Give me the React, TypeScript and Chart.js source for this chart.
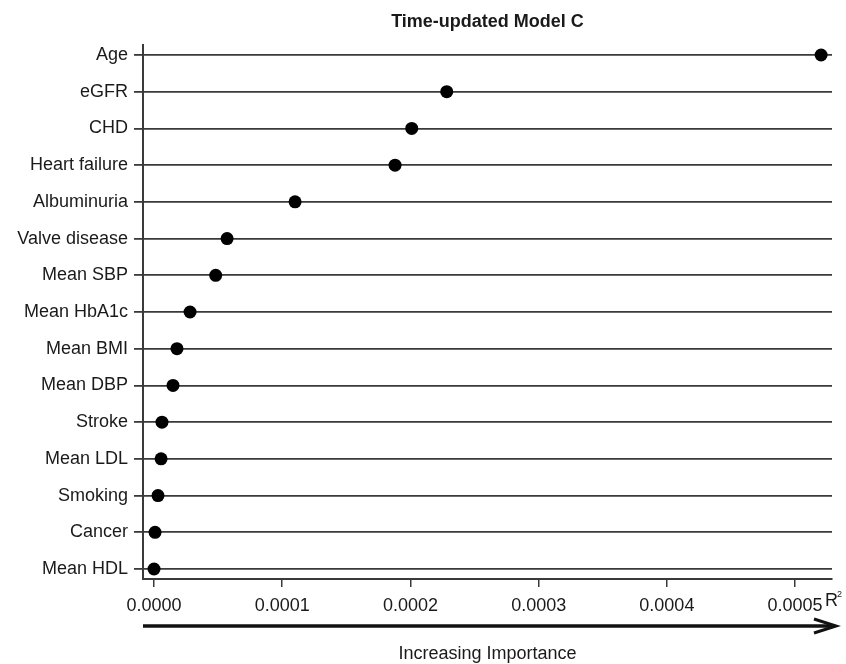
import React, { useEffect, useRef } from "react";
import { Chart, registerables } from "chart.js";

Chart.register(...registerables);

const categories = [
  "Age",
  "eGFR",
  "CHD",
  "Heart failure",
  "Albuminuria",
  "Valve disease",
  "Mean SBP",
  "Mean HbA1c",
  "Mean BMI",
  "Mean DBP",
  "Stroke",
  "Mean LDL",
  "Smoking",
  "Cancer",
  "Mean HDL",
];

const r2Values = [
  0.0005203, 0.0002283, 0.000201, 0.000188, 0.00011, 0.000057, 0.0000481,
  0.0000281, 0.0000179, 0.0000148, 0.0000062, 0.0000055, 0.0000031,
  0.0000008, 0.0,
];

const xTickValues = [0, 0.0001, 0.0002, 0.0003, 0.0004, 0.0005];

const chartTitle = "Time-updated Model C";
const xAxisTitle = "Increasing Importance";

const FONT = "'Liberation Sans', Arial, Helvetica, sans-serif";
const INK = "#1a1a1a";
const LINE = "#3a3a3a";

const decorPlugin = {
  id: "decor",
  afterDraw(chart: any) {
    const ctx = chart.ctx as CanvasRenderingContext2D;
    const area = chart.chartArea;
    const cx = (area.left + area.right) / 2;
    ctx.save();
    // Title
    ctx.fillStyle = INK;
    ctx.textAlign = "center";
    ctx.textBaseline = "alphabetic";
    ctx.font = `bold 18px ${FONT}`;
    ctx.fillText(chartTitle, cx, 27);

    // R^2 label
    ctx.textAlign = "left";
    ctx.font = `18px ${FONT}`;
    ctx.fillText("R", area.right - 7, 606);
    ctx.font = `9px ${FONT}`;
    ctx.fillText("2", area.right + 5, 597);

    // Arrow
    const ay = 626;
    ctx.strokeStyle = "#111";
    ctx.lineWidth = 3.5;
    ctx.lineCap = "butt";
    ctx.beginPath();
    ctx.moveTo(area.left, ay);
    ctx.lineTo(area.right + 3, ay);
    ctx.stroke();
    ctx.lineWidth = 3;
    ctx.lineJoin = "miter";
    ctx.beginPath();
    ctx.moveTo(area.right - 18, ay - 7);
    ctx.lineTo(area.right + 4, ay);
    ctx.lineTo(area.right - 18, ay + 7);
    ctx.stroke();

    // Axis title
    ctx.fillStyle = INK;
    ctx.textAlign = "center";
    ctx.font = `18px ${FONT}`;
    ctx.fillText(xAxisTitle, cx, 659);
    ctx.restore();
  },
};

export default function App() {
  const canvasRef = useRef<HTMLCanvasElement | null>(null);

  useEffect(() => {
    document.body.style.margin = "0";
    const canvas = canvasRef.current;
    if (!canvas) return;
    const chart = new Chart(canvas, {
      type: "scatter",
      data: {
        datasets: [
          {
            data: r2Values.map((v, i) => ({ x: v, y: i })),
            backgroundColor: "#000",
            borderColor: "#000",
            pointRadius: 6.5,
            pointHoverRadius: 6.5,
            borderWidth: 0,
          },
        ],
      },
      options: {
        responsive: false,
        animation: false,
        devicePixelRatio: 1,
        layout: { padding: { top: 45, right: 14, bottom: 0, left: 0 } },
        plugins: {
          legend: { display: false },
          title: { display: false },
          tooltip: { enabled: false },
        },
        scales: {
          x: {
            type: "linear",
            min: -0.0000086,
            max: 0.0005288,
            afterBuildTicks: (axis: any) => {
              axis.ticks = xTickValues.map((v) => ({ value: v }));
            },
            afterFit: (scale: any) => {
              scale.height = 85;
            },
            ticks: {
              autoSkip: false,
              maxRotation: 0,
              minRotation: 0,
              padding: 8,
              color: INK,
              font: { family: FONT, size: 18 },
              callback: (v: any) => Number(v).toFixed(4),
            },
            grid: {
              drawOnChartArea: false,
              drawTicks: true,
              tickLength: 8,
              color: LINE,
              lineWidth: 1.5,
            },
            border: { display: true, color: LINE, width: 2 },
          },
          y: {
            type: "linear",
            reverse: true,
            min: -0.272,
            max: 14.272,
            afterBuildTicks: (axis: any) => {
              axis.ticks = categories.map((_, i) => ({ value: i }));
            },
            afterFit: (scale: any) => {
              scale.width = 143;
            },
            ticks: {
              autoSkip: false,
              padding: 6,
              color: INK,
              font: { family: FONT, size: 18 },
              callback: (v: any) => categories[Math.round(Number(v))] ?? "",
            },
            grid: {
              drawOnChartArea: true,
              drawTicks: true,
              tickLength: 9,
              color: LINE,
              lineWidth: 1.8,
            },
            border: { display: true, color: LINE, width: 2 },
          },
        },
      },
      plugins: [decorPlugin],
    });
    return () => chart.destroy();
  }, []);

  return (
    <div style={{ position: "absolute", left: 0, top: 0, width: 846, height: 664, background: "#fff" }}>
      <canvas ref={canvasRef} width={846} height={664} />
    </div>
  );
}
